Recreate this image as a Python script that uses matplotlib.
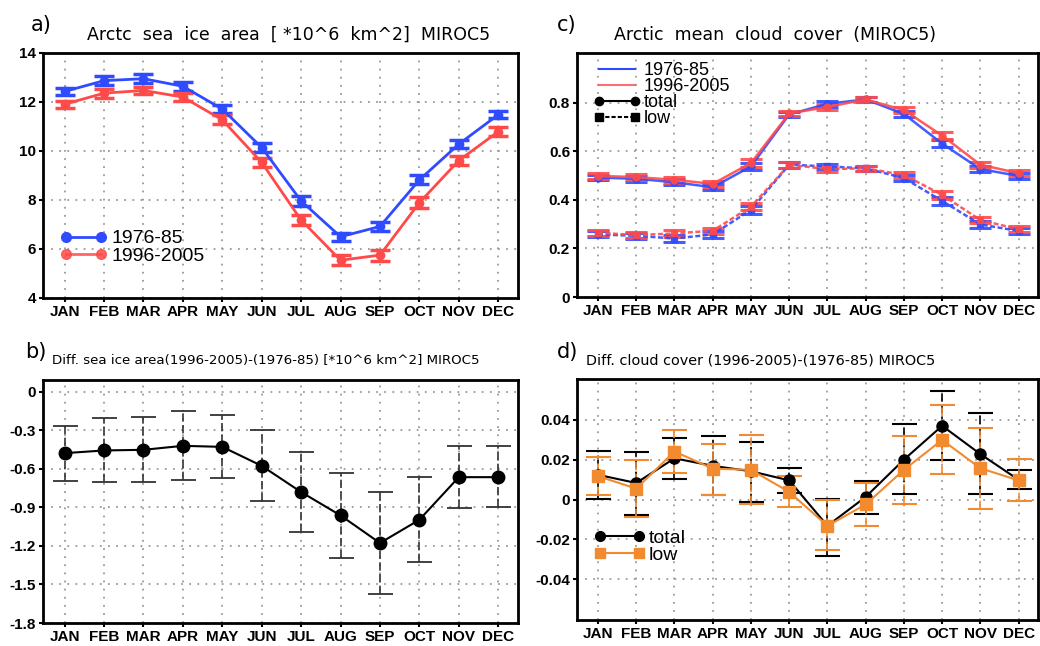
import numpy as np
import matplotlib
matplotlib.use('Agg')
import matplotlib.pyplot as plt
from matplotlib.lines import Line2D

plt.rcParams['axes.unicode_minus'] = False
TICKF = ['Liberation Sans', 'DejaVu Sans']
plt.rcParams['font.family'] = ['DejaVu Sans']

months = ['JAN', 'FEB', 'MAR', 'APR', 'MAY', 'JUN', 'JUL', 'AUG', 'SEP', 'OCT', 'NOV', 'DEC']

# a) sea ice area
ice_7685 = [12.43, 12.87, 12.95, 12.64, 11.71, 10.14, 7.96, 6.50, 6.92, 8.82, 10.28, 11.48]
ice_9605 = [11.91, 12.36, 12.47, 12.20, 11.27, 9.53, 7.18, 5.54, 5.75, 7.89, 9.61, 10.79]
ice_err_7685 = [0.15, 0.18, 0.18, 0.18, 0.17, 0.17, 0.2, 0.17, 0.2, 0.18, 0.17, 0.15]
ice_err_9605 = [0.15, 0.18, 0.15, 0.17, 0.18, 0.2, 0.22, 0.2, 0.22, 0.22, 0.2, 0.18]

# b) sea ice difference
ice_diff = [-0.477, -0.456, -0.451, -0.42, -0.428, -0.576, -0.78, -0.962, -1.177, -0.996, -0.664, -0.664]
ice_diff_hi = [-0.265, -0.207, -0.192, -0.145, -0.18, -0.30, -0.469, -0.633, -0.778, -0.659, -0.42, -0.42]
ice_diff_lo = [-0.692, -0.703, -0.703, -0.685, -0.674, -0.853, -1.092, -1.291, -1.577, -1.328, -0.905, -0.897]

# c) cloud cover
tot_7685 = [0.492, 0.487, 0.473, 0.452, 0.538, 0.752, 0.796, 0.814, 0.754, 0.632, 0.527, 0.499]
tot_9605 = [0.499, 0.494, 0.483, 0.466, 0.552, 0.756, 0.783, 0.814, 0.770, 0.665, 0.545, 0.510]
low_7685 = [0.258, 0.252, 0.241, 0.258, 0.359, 0.545, 0.538, 0.530, 0.490, 0.396, 0.299, 0.272]
low_9605 = [0.265, 0.255, 0.262, 0.273, 0.372, 0.545, 0.527, 0.530, 0.503, 0.421, 0.317, 0.279]
cld_err = [0.012, 0.012, 0.013, 0.013, 0.015, 0.012, 0.012, 0.01, 0.013, 0.016, 0.013, 0.012]

# d) cloud cover difference
dtot = [0.0124, 0.0083, 0.0207, 0.0169, 0.0142, 0.0096, -0.0132, 0.0013, 0.020, 0.037, 0.0228, 0.0099]
dtot_hi = [0.0245, 0.0241, 0.031, 0.0319, 0.029, 0.0159, 0.0003, 0.0091, 0.0377, 0.0547, 0.0433, 0.0149]
dtot_lo = [0.0005, -0.0078, 0.0104, 0.0025, -0.0013, 0.0035, -0.0284, -0.0074, 0.003, 0.0198, 0.0026, 0.0055]
dlow = [0.0117, 0.0055, 0.0241, 0.0155, 0.0149, 0.0038, -0.0132, -0.0025, 0.0149, 0.0299, 0.0157, 0.0096]
dlow_hi = [0.0212, 0.020, 0.035, 0.0281, 0.0322, 0.0116, -0.0003, 0.0084, 0.0317, 0.0476, 0.036, 0.0203]
dlow_lo = [0.0025, -0.0086, 0.0134, 0.0025, -0.002, -0.0036, -0.0255, -0.0132, -0.0023, 0.0126, -0.005, -0.0008]

BLUE = '#2f4bff'
RED = '#ff4a4a'
ORANGE = '#f28a30'
x = np.arange(12)

fig = plt.figure(figsize=(10.4, 6.46), dpi=100)
axa = fig.add_axes([0.0413, 0.5387, 0.4567, 0.3793])
axc = fig.add_axes([0.5548, 0.5402, 0.4430, 0.3777])
axb = fig.add_axes([0.0413, 0.0356, 0.4567, 0.3762])
axd = fig.add_axes([0.5548, 0.0402, 0.4430, 0.3731])

LEG = {'family': TICKF, 'size': 14}


def style(ax, yticks, ylabels, ylim):
    ax.set_xlim(-0.55, 11.5)
    ax.set_ylim(*ylim)
    ax.set_xticks(x)
    ax.set_xticklabels(months, family=TICKF, fontweight='bold', fontsize=11)
    ax.set_yticks(yticks)
    ax.set_yticklabels(ylabels, family=TICKF, fontweight='bold', fontsize=11)
    ax.tick_params(direction='out', length=3, width=1.5, pad=2)
    for sp in ax.spines.values():
        sp.set_linewidth(2)
    ax.grid(True, color='#9a9a9a', linestyle=(0, (1, 3.5)), linewidth=1.3)
    ax.set_axisbelow(True)


# a)
for vals, err, col, lab in [(ice_7685, ice_err_7685, BLUE, '1976-85'),
                            (ice_9605, ice_err_9605, RED, '1996-2005')]:
    axa.errorbar(x, vals, yerr=err, color=col, lw=2, marker='o', ms=6,
                 mfc=col, mec=col, capsize=7, capthick=2.5, elinewidth=1.5, label=lab)
style(axa, [4, 6, 8, 10, 12, 14], ['4', '6', '8', '10', '12', '14'], (4, 14))
h = [Line2D([], [], color=BLUE, lw=2, marker='o', ms=7),
     Line2D([], [], color=RED, lw=2, marker='o', ms=7, alpha=0.85)]
axa.legend(h, ['1976-85', '1996-2005'], loc='lower left', bbox_to_anchor=(0.0, 0.065),
           frameon=False, numpoints=2, handlelength=2.4, handletextpad=0.2,
           labelspacing=-0.02, prop=LEG)
fig.text(0.03, 0.962, 'a)', fontsize=15, va='center')
fig.text(0.277, 0.946, 'Arctc  sea  ice  area  [ *10^6  km^2]  MIROC5', fontsize=12.5, ha='center', va='center')

# b)
axb.errorbar(x, ice_diff,
             yerr=[np.subtract(ice_diff, ice_diff_lo), np.subtract(ice_diff_hi, ice_diff)],
             color='black', lw=1.5, marker='o', ms=9, mfc='black', capsize=9,
             capthick=1.3, elinewidth=1.2, ecolor='#333333')
for ln in axb.containers[0][2]:
    ln.set_linestyle((0, (5, 2)))
style(axb, [0, -0.3, -0.6, -0.9, -1.2, -1.5, -1.8],
      ['0', '-0.3', '-0.6', '-0.9', '-1.2', '-1.5', '-1.8'], (-1.8, 0.093))
fig.text(0.024, 0.455, 'b)', fontsize=15, va='center')
fig.text(0.05, 0.442, 'Diff. sea ice area(1996-2005)-(1976-85) [*10^6 km^2] MIROC5', fontsize=9.6, va='center')

# c)
for vals, col, ls, mk in [(tot_7685, BLUE, '-', 'o'), (tot_9605, RED, '-', 'o'),
                          (low_7685, BLUE, (0, (2, 1)), 's'), (low_9605, RED, (0, (2, 1)), 's')]:
    axc.errorbar(x, vals, yerr=cld_err, color=col, ls=ls, lw=1.8, marker=mk, ms=5,
                 capsize=8, capthick=2.2, elinewidth=1.5, alpha=0.9)
style(axc, [0, 0.2, 0.4, 0.6, 0.8], ['0', '0.2', '0.4', '0.6', '0.8'], (0, 1.005))
h = [Line2D([], [], color=BLUE, lw=1.5),
     Line2D([], [], color=RED, lw=1.5, alpha=0.8),
     Line2D([], [], color='black', lw=1.5, marker='o', ms=6),
     Line2D([], [], color='black', lw=1.5, ls=(0, (2, 1)), marker='s', ms=6)]
axc.legend(h, ['1976-85', '1996-2005', 'total', 'low'], loc='upper left', bbox_to_anchor=(0.0, 1.03),
           frameon=False, numpoints=2, handlelength=2.6, handletextpad=0.2,
           labelspacing=-0.05, prop={'family': TICKF, 'size': 13})
fig.text(0.535, 0.962, 'c)', fontsize=15, va='center')
fig.text(0.745, 0.946, 'Arctic  mean  cloud  cover  (MIROC5)', fontsize=12.5, ha='center', va='center')

# d)
axd.errorbar(x, dtot, yerr=[np.subtract(dtot, dtot_lo), np.subtract(dtot_hi, dtot)],
             color='black', lw=1.5, marker='o', ms=8, capsize=9, capthick=1.5,
             elinewidth=1.2, label='total')
axd.errorbar(x, dlow, yerr=[np.subtract(dlow, dlow_lo), np.subtract(dlow_hi, dlow)],
             color=ORANGE, lw=1.5, marker='s', ms=8, capsize=9, capthick=1.5,
             elinewidth=1.2, label='low')
for c in axd.containers:
    for ln in c[2]:
        ln.set_linestyle((0, (5, 2)))
style(axd, [-0.04, -0.02, 0, 0.02, 0.04], ['-0.04', '-0.02', '0', '0.02', '0.04'], (-0.0605, 0.0605))
h = [Line2D([], [], color='black', lw=1.5, marker='o', ms=7),
     Line2D([], [], color=ORANGE, lw=1.5, marker='s', ms=7)]
axd.legend(h, ['total', 'low'], loc='lower left', bbox_to_anchor=(0.0, 0.16),
           frameon=False, numpoints=2, handlelength=2.6, handletextpad=0.2,
           labelspacing=-0.02, prop=LEG)
fig.text(0.535, 0.455, 'd)', fontsize=15, va='center')
fig.text(0.563, 0.442, 'Diff. cloud cover (1996-2005)-(1976-85) MIROC5', fontsize=10.4, va='center')

fig.savefig('out.png', dpi=100)
